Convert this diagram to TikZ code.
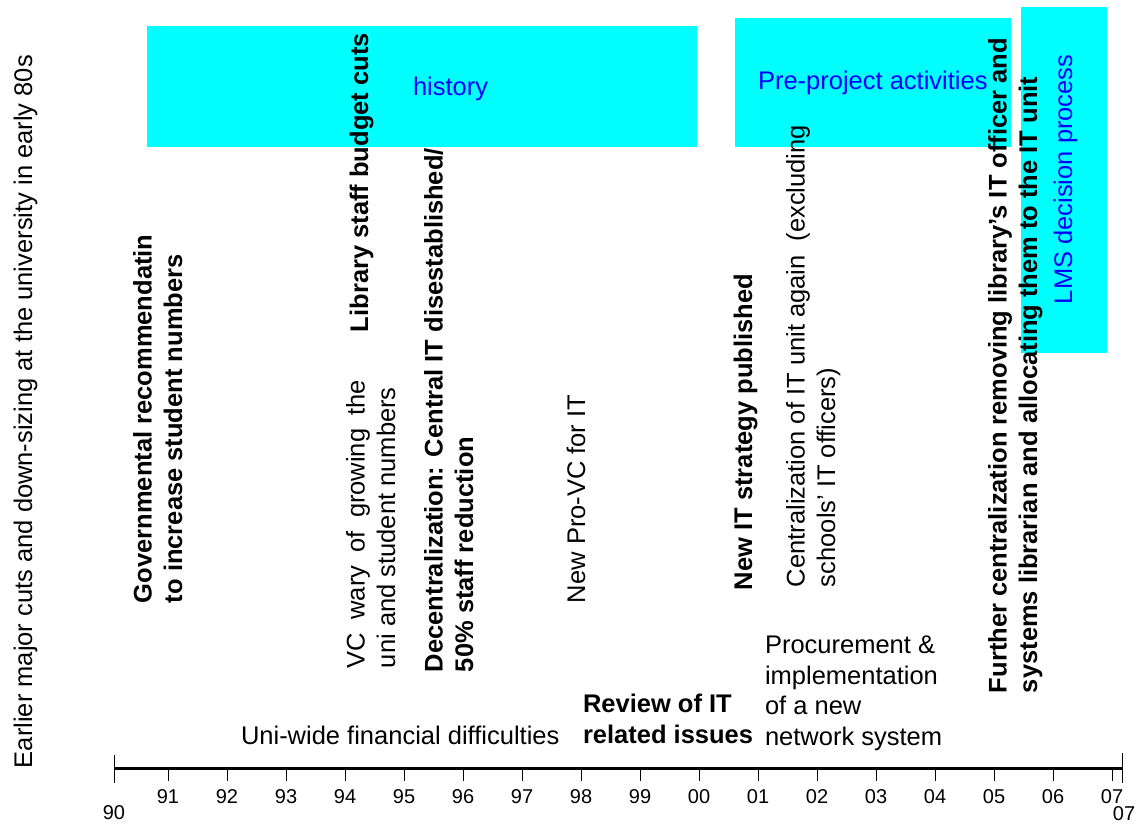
\documentclass[tikz,border=0pt]{standalone}
\usepackage{fontspec}
\setmainfont{Liberation Sans}
\definecolor{bandcyan}{RGB}{0,255,255}
\definecolor{phaseblue}{RGB}{0,0,255}
\begin{document}
\begin{tikzpicture}[x=1pt,y=-1pt,
  lbl/.style={inner sep=0pt, outer sep=0pt, anchor=base west, align=left,
    font=\fontsize{25.5}{30.5}\selectfont},
  up/.style={lbl, rotate=90},
  strong/.style={font=\fontsize{25.5}{30.5}\selectfont\bfseries},
  phase/.style={text=phaseblue},
  band/.style={fill=bandcyan, draw=none},
  yr/.style={inner sep=0pt, outer sep=0pt, font=\fontsize{20}{24}\selectfont},
  tickline/.style={line width=1pt}]
\path[use as bounding box, fill=white] (0,0) rectangle (1135,823);

% phase bands
\fill[band] (147,26) rectangle (697,147);
\fill[band] (735,18) rectangle (1011,147);
\fill[band] (1021,7) rectangle (1107,353);

% phase names
\node[lbl, phase] (history) at (413,95) {history};
\node[lbl, phase] (preproj) at (758,89) {Pre-project activities};
\node[up, phase] (lms) at (1072,304) {LMS decision process};

% events (multi-line labels are placed by the baseline of their last line)
\node[up] (earlier) at (32,768) {Earlier major cuts and down-sizing at the university in early 80s};
\node[up, strong] (gov) at (182,603) {Governmental recommendatin\\to increase student numbers};
\node[up] (vc) at (395,668) {\makebox[288pt][s]{VC wary of growing the}\\uni and student numbers};
\node[up, strong] (libcuts) at (368,332) {Library staff budget cuts};
\node[up, strong] (decentral) at (473,672) {Decentralization: Central IT disestablished/\\50\% staff reduction};
\node[up] (provc) at (585,603) {New Pro-VC for IT};
\node[up, strong] (strategy) at (752,590) {New IT strategy published};
\node[up] (central) at (835,587) {Centralization of IT unit again \ (excluding\\schools’ IT officers)};
\node[up, strong] (further) at (1037,693) {Further centralization removing library’s IT officer and\\systems librarian and allocating them to the IT unit};
\node[lbl] (uniwide) at (241,744) {Uni-wide financial difficulties};
\node[lbl, strong] (review) at (583,743) {Review of IT\\related issues};
\node[lbl] (procure) at (765,745) {Procurement \&\\implementation\\of a new\\network system};

% time axis
\draw[line width=3pt] (114,768) -- (1122,768);
\draw[tickline] (114,755) -- (114,783);
\draw[tickline] (1122,753) -- (1122,783);
\foreach \lab [count=\i from 0] in {91,92,93,94,95,96,97,98,99,00,01,02,03,04,05,06,07}{
  \draw[tickline] (168+59*\i,768) -- (168+59*\i,781);
  \node[yr] (y\lab) at (168+59*\i,797) {\lab};
}
\node[yr] (ystart) at (114,813) {90};
\node[yr] (yend) at (1124,814) {07};
\end{tikzpicture}
\end{document}
